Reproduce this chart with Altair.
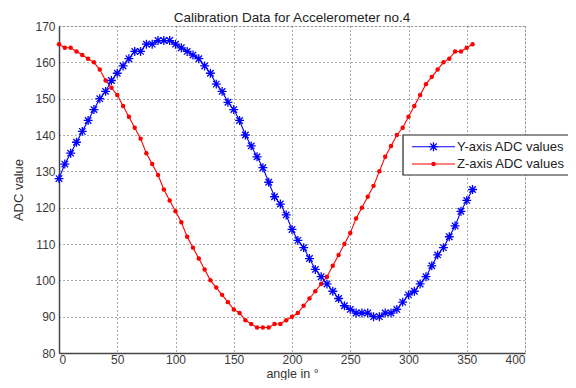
import altair as alt
import pandas as pd

angles = list(range(0, 360, 5))
y_adc = [128, 132, 135, 138, 141, 144, 147, 150, 152, 155,
         157, 159, 161, 163, 163, 165, 165, 166, 166, 166,
         165, 164, 163, 162, 161, 159, 157, 154, 152, 149,
         147, 144, 140, 137, 134, 131, 127, 123, 121, 118,
         114, 111, 109, 106, 103, 101, 99, 97, 95, 93,
         92, 91, 91, 91, 90, 90, 91, 91, 92, 94,
         96, 97, 99, 101, 104, 107, 109, 112, 115, 119,
         122, 125]
z_adc = [165, 164, 164, 163, 162, 161, 160, 158, 155, 153,
         151, 148, 145, 142, 139, 135, 132, 129, 125, 122,
         119, 116, 112, 109, 106, 103, 100, 98, 96, 94,
         92, 91, 89, 88, 87, 87, 87, 88, 88, 89,
         90, 91, 93, 95, 97, 99, 101, 104, 107, 110,
         113, 117, 120, 123, 126, 130, 134, 137, 140, 142,
         145, 148, 151, 154, 156, 158, 160, 161, 163, 163,
         164, 165]
series_names = ["Y-axis ADC values", "Z-axis ADC values"]
x_ticks = [0, 50, 100, 150, 200, 250, 300, 350, 400]
y_ticks = [80, 90, 100, 110, 120, 130, 140, 150, 160, 170]

BLUE = "#0000ff"
RED = "#ff0000"
FONT = "Liberation Sans"
ASTERISK = "M-1,0L1,0M0,-1L0,1M-0.72,-0.72L0.72,0.72M-0.72,0.72L0.72,-0.72"

W, H = 466, 327

dy = pd.DataFrame({"angle": angles, "value": y_adc})
dz = pd.DataFrame({"angle": angles, "value": z_adc})

xs = alt.Scale(domain=[0, 400], nice=False, zero=False)
ys = alt.Scale(domain=[80, 170], nice=False, zero=False)

common = dict(grid=True, gridDash=[1, 3], gridColor="#444444", gridWidth=1,
              gridOpacity=0.9, domainColor="#444444", domainWidth=1.5, ticks=False,
              labelFont=FONT, labelFontSize=12, labelColor="#3a3a3a",
              titleFont=FONT, titleFontWeight="normal", titleColor="#333333")
x_axis = alt.Axis(values=x_ticks, labelPadding=1, title="angle in °",
                  titleFontSize=12.5, titleX=W / 2, titleY=24, titleAlign="center",
                  titleBaseline="alphabetic", **common)
y_axis = alt.Axis(values=y_ticks, labelPadding=4, title="ADC value",
                  titleFontSize=13, titleX=-41, titleY=H / 2, titleAngle=-90,
                  titleAlign="center", titleBaseline="middle", **common)

ex = alt.X("angle:Q", scale=xs, axis=x_axis)
ey = alt.Y("value:Q", scale=ys, axis=y_axis)

z_line = alt.Chart(dz).mark_line(color=RED, strokeWidth=1.1).encode(x=ex, y=ey)
z_pts = alt.Chart(dz).mark_point(shape="circle", filled=True, color=RED, size=20,
                                 opacity=1).encode(x=ex, y=ey)
y_line = alt.Chart(dy).mark_line(color=BLUE, strokeWidth=1.1).encode(x=ex, y=ey)
y_pts = alt.Chart(dy).mark_point(shape=ASTERISK, filled=False, color=BLUE, size=80,
                                 strokeWidth=1.3, opacity=1).encode(x=ex, y=ey)

# legend box (drawn in pixel space)
leg = pd.DataFrame({"name": series_names, "ly": [120.7, 138.0],
                    "col": [BLUE, RED]})
leg_box = alt.Chart(pd.DataFrame({"a": [0]})).mark_rect(
    fill="white", stroke="#222222", strokeWidth=1.2).encode(
    x=alt.value(344), x2=alt.value(540), y=alt.value(109), y2=alt.value(149))
leg_lines = alt.Chart(leg).mark_rule(strokeWidth=1.1).encode(
    x=alt.value(353), x2=alt.value(396),
    y=alt.Y("ly:Q", scale=None),
    color=alt.Color("col:N", scale=None))
leg_y_pt = alt.Chart(leg.iloc[[0]]).mark_point(shape=ASTERISK, filled=False, size=80,
                                               strokeWidth=1.3, opacity=1).encode(
    x=alt.value(374.5), y=alt.Y("ly:Q", scale=None), color=alt.Color("col:N", scale=None))
leg_z_pt = alt.Chart(leg.iloc[[1]]).mark_point(shape="circle", filled=True, size=20,
                                               opacity=1).encode(
    x=alt.value(374.5), y=alt.Y("ly:Q", scale=None), color=alt.Color("col:N", scale=None))
leg_text = alt.Chart(leg).mark_text(align="left", baseline="middle", font=FONT,
                                    fontSize=13, color="#222222").encode(
    x=alt.value(398), y=alt.Y("ly:Q", scale=None), text="name:N")

chart = alt.layer(z_line, z_pts, y_line, y_pts, leg_box, leg_lines, leg_y_pt, leg_z_pt,
                  leg_text).properties(
    width=W, height=H,
    title=alt.TitleParams("Calibration Data for Accelerometer no.4", font=FONT,
                          fontSize=13.5, fontWeight="normal", color="#222222",
                          anchor="middle", offset=4, dy=8),
    autosize=alt.AutoSizeParams(type="none"),
    padding={"left": 51, "top": 18, "right": 43, "bottom": 27},
).configure_view(stroke=None).configure(background="white")

chart.save("out.html", embed_options={"renderer": "svg", "actions": False})
